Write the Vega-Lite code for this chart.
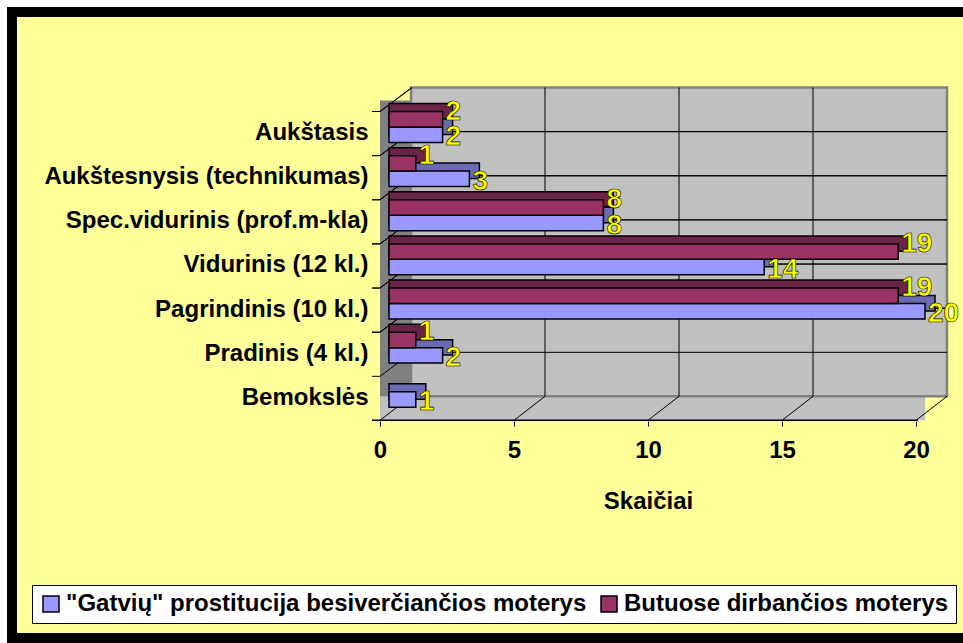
{
  "$schema": "https://vega.github.io/schema/vega-lite/v6.json",
  "width": 951,
  "height": 626,
  "autosize": {"type": "none"},
  "padding": {"left": 12, "top": 12, "right": 0, "bottom": 5},
  "background": "#FFFFFF",
  "datasets": {
    "bars": [
      {"level": "Aukštasis", "group": "\"Gatvių\" prostitucija besiverčiančios moterys", "count": 2},
      {"level": "Aukštasis", "group": "Butuose dirbančios moterys", "count": 2},
      {"level": "Aukštesnysis (technikumas)", "group": "\"Gatvių\" prostitucija besiverčiančios moterys", "count": 3},
      {"level": "Aukštesnysis (technikumas)", "group": "Butuose dirbančios moterys", "count": 1},
      {"level": "Spec.vidurinis (prof.m-kla)", "group": "\"Gatvių\" prostitucija besiverčiančios moterys", "count": 8},
      {"level": "Spec.vidurinis (prof.m-kla)", "group": "Butuose dirbančios moterys", "count": 8},
      {"level": "Vidurinis (12 kl.)", "group": "\"Gatvių\" prostitucija besiverčiančios moterys", "count": 14},
      {"level": "Vidurinis (12 kl.)", "group": "Butuose dirbančios moterys", "count": 19},
      {"level": "Pagrindinis (10 kl.)", "group": "\"Gatvių\" prostitucija besiverčiančios moterys", "count": 20},
      {"level": "Pagrindinis (10 kl.)", "group": "Butuose dirbančios moterys", "count": 19},
      {"level": "Pradinis (4 kl.)", "group": "\"Gatvių\" prostitucija besiverčiančios moterys", "count": 2},
      {"level": "Pradinis (4 kl.)", "group": "Butuose dirbančios moterys", "count": 1},
      {"level": "Bemokslės", "group": "\"Gatvių\" prostitucija besiverčiančios moterys", "count": 1}
    ],
    "ticks": [{"v": 0}, {"v": 5}, {"v": 10}, {"v": 15}, {"v": 20}]
  },
  "data": {"name": "bars"},
  "config": {
    "font": "Liberation Sans",
    "view": {"fill": "#FFFF99", "stroke": "#000000", "strokeWidth": 10, "strokeDash": [951, 626, 1620]},
    "axis": {"labelFont": "Liberation Sans", "labelFontWeight": "bold", "labelColor": "#000000", "titleFont": "Liberation Sans", "titleFontWeight": "bold", "titleColor": "#000000"},
    "legend": {"labelFont": "Liberation Sans"}
  },
  "resolve": {"scale": {"yOffset": "independent"}},
  "layer": [
    {
      "mark": {"type": "bar", "stroke": "#000000", "strokeWidth": 1.5},
      "encoding": {
        "x": {
          "field": "count", "type": "quantitative", "stack": null,
          "scale": {"domain": [-14.0672, 21.4179], "nice": false, "zero": false},
          "axis": {
            "title": "Skaičiai", "values": [0, 5, 10, 15, 20], "domain": false, "grid": false,
            "ticks": true, "tickSize": 5, "tickColor": "#000000", "tickWidth": 1, "tickOffset": -9,
            "offset": -217, "labelFontSize": 24, "labelPadding": 12, "labelFlush": false, "labelOverlap": false,
            "titleFontSize": 24, "titleX": 636, "titleY": 87, "titleBaseline": "alphabetic", "titleAlign": "center"
          }
        },
        "y": {
          "field": "level", "type": "nominal",
          "scale": {
            "domain": ["Aukštasis", "Aukštesnysis (technikumas)", "Spec.vidurinis (prof.m-kla)", "Vidurinis (12 kl.)", "Pagrindinis (10 kl.)", "Pradinis (4 kl.)", "Bemokslės"],
            "range": [91.5, 395.24], "paddingInner": 0.1187, "paddingOuter": 0
          },
          "axis": {
            "title": null, "domain": false, "ticks": false, "tickSize": 0, "grid": false,
            "offset": -368, "labelPadding": 12, "labelOffset": 10, "labelFontSize": 24, "labelLimit": 600
          }
        },
        "yOffset": {"field": "group", "type": "nominal", "scale": {"domain": ["Butuose dirbančios moterys", "\"Gatvių\" prostitucija besiverčiančios moterys"], "paddingInner": 0, "paddingOuter": 0.259, "align": 1}},
        "color": {
          "field": "group", "type": "nominal",
          "scale": {"domain": ["\"Gatvių\" prostitucija besiverčiančios moterys", "Butuose dirbančios moterys"], "range": ["#9999FF", "#993366"]},
          "legend": {
            "title": null, "orient": "none", "legendX": 20, "legendY": 573, "direction": "horizontal",
            "symbolType": "square", "symbolSize": 256, "symbolOffset": 0, "symbolStrokeColor": "#000000", "symbolStrokeWidth": 1.5,
            "labelFontSize": 24, "labelFontWeight": "bold", "labelColor": "#000000", "labelOffset": 3, "labelLimit": 1000,
            "columnPadding": 10, "padding": 7, "strokeColor": "#000000", "fillColor": "#FFFFFF"
          }
        }
      }
    },
    {
      "data": {"values": [{}]},
      "mark": {"type": "rect", "fill": "#808080", "xOffset": -9, "x2Offset": 22, "yOffset": -3, "y2Offset": 52},
      "encoding": {
        "x": {"datum": 0, "type": "quantitative"},
        "x2": {"datum": 0},
        "y": {"datum": "Aukštasis", "type": "nominal", "bandPosition": 0},
        "y2": {"datum": "Bemokslės", "bandPosition": 0}
      }
    },
    {
      "data": {"values": [{}]},
      "mark": {"type": "rect", "fill": "#C0C0C0", "xOffset": -9, "x2Offset": 0, "yOffset": 28, "y2Offset": 52},
      "encoding": {
        "x": {"datum": 0, "type": "quantitative"},
        "x2": {"datum": 20},
        "y": {"datum": "Bemokslės", "type": "nominal", "bandPosition": 0},
        "y2": {"datum": "Bemokslės", "bandPosition": 0}
      }
    },
    {
      "data": {"values": [{}]},
      "mark": {"type": "rect", "fill": "#C0C0C0", "stroke": "#808080", "strokeWidth": 2.5, "xOffset": 22, "x2Offset": 22, "yOffset": -16, "y2Offset": 28},
      "encoding": {
        "x": {"datum": 0, "type": "quantitative"},
        "x2": {"datum": 20},
        "y": {"datum": "Aukštasis", "type": "nominal", "bandPosition": 0},
        "y2": {"datum": "Bemokslės", "bandPosition": 0}
      }
    },
    {
      "data": {"name": "ticks"},
      "transform": [{"filter": "datum.v > 0 && datum.v < 20"}],
      "mark": {"type": "rule", "stroke": "#000000", "strokeWidth": 1, "xOffset": 22, "yOffset": -16, "y2Offset": 28},
      "encoding": {
        "x": {"field": "v", "type": "quantitative"},
        "y": {"datum": "Aukštasis", "type": "nominal", "bandPosition": 0},
        "y2": {"datum": "Bemokslės", "bandPosition": 0}
      }
    },
    {
      "transform": [{"filter": "datum.level != 'Aukštasis'"}],
      "mark": {"type": "rule", "stroke": "#000000", "strokeWidth": 1, "xOffset": 22, "x2Offset": 22, "yOffset": -16},
      "encoding": {
        "x": {"datum": 0, "type": "quantitative"},
        "x2": {"datum": 20},
        "y": {"field": "level", "type": "nominal", "bandPosition": 0}
      }
    },
    {
      "mark": {"type": "rule", "stroke": "#000000", "strokeWidth": 1, "xOffset": -9, "x2Offset": 23, "yOffset": 8, "y2Offset": -16},
      "encoding": {
        "x": {"datum": 0, "type": "quantitative"},
        "x2": {"datum": 0},
        "y": {"field": "level", "type": "nominal", "bandPosition": 0},
        "y2": {"field": "level", "bandPosition": 0}
      }
    },
    {
      "data": {"name": "ticks"},
      "mark": {"type": "rule", "stroke": "#000000", "strokeWidth": 1, "xOffset": -9, "x2Offset": 22, "yOffset": 52, "y2Offset": 28},
      "encoding": {
        "x": {"field": "v", "type": "quantitative"},
        "x2": {"field": "v"},
        "y": {"datum": "Bemokslės", "type": "nominal", "bandPosition": 0},
        "y2": {"datum": "Bemokslės", "bandPosition": 0}
      }
    },
    {
      "mark": {"type": "rule", "stroke": "#000000", "strokeWidth": 1, "xOffset": -17, "x2Offset": -9, "yOffset": 8},
      "encoding": {
        "x": {"datum": 0, "type": "quantitative"},
        "x2": {"datum": 0},
        "y": {"field": "level", "type": "nominal", "bandPosition": 0}
      }
    },
    {
      "data": {"values": [{}]},
      "mark": {"type": "rule", "stroke": "#000000", "strokeWidth": 1.5, "xOffset": -17, "x2Offset": -7, "yOffset": 52},
      "encoding": {
        "x": {"datum": 0, "type": "quantitative"},
        "x2": {"datum": 20},
        "y": {"datum": "Bemokslės", "type": "nominal", "bandPosition": 0}
      }
    },
    {
      "transform": [{"filter": "datum.group == 'Butuose dirbančios moterys'"}],
      "mark": {"type": "bar", "fill": "#6B2447", "stroke": "#000000", "strokeWidth": 1.5, "xOffset": 10, "x2Offset": 10},
      "encoding": {
        "x": {"field": "count", "type": "quantitative", "stack": null},
        "y": {"field": "level", "type": "nominal"},
        "yOffset": {"field": "group", "type": "nominal", "scale": {"domain": ["Butuose dirbančios moterys", "\"Gatvių\" prostitucija besiverčiančios moterys"], "paddingInner": 0, "paddingOuter": 0.259, "align": 0}}
      }
    },
    {
      "transform": [{"filter": "datum.group != 'Butuose dirbančios moterys'"}],
      "mark": {"type": "bar", "fill": "#6B6BB3", "stroke": "#000000", "strokeWidth": 1.5, "xOffset": 10, "x2Offset": 10},
      "encoding": {
        "x": {"field": "count", "type": "quantitative", "stack": null},
        "y": {"field": "level", "type": "nominal"},
        "yOffset": {"field": "group", "type": "nominal", "scale": {"domain": ["Butuose dirbančios moterys", "\"Gatvių\" prostitucija besiverčiančios moterys"], "paddingInner": 0, "paddingOuter": 0.259, "align": 0}}
      }
    },
    {
      "mark": {"type": "bar", "stroke": "#000000", "strokeWidth": 1.5},
      "encoding": {
        "x": {"field": "count", "type": "quantitative", "stack": null},
        "y": {"field": "level", "type": "nominal"},
        "yOffset": {"field": "group", "type": "nominal", "scale": {"domain": ["Butuose dirbančios moterys", "\"Gatvių\" prostitucija besiverčiančios moterys"], "paddingInner": 0, "paddingOuter": 0.259, "align": 1}},
        "color": {"field": "group", "type": "nominal"}
      }
    },
    {
      "mark": {"type": "text", "fill": "#FFFF00", "stroke": "#000000", "strokeWidth": 0.6, "fontSize": 28, "fontWeight": "bold", "align": "left", "baseline": "middle", "dx": 3, "dy": -5},
      "encoding": {
        "x": {"field": "count", "type": "quantitative", "stack": null},
        "y": {"field": "level", "type": "nominal"},
        "yOffset": {"field": "group", "type": "nominal", "scale": {"domain": ["Butuose dirbančios moterys", "\"Gatvių\" prostitucija besiverčiančios moterys"], "paddingInner": 0, "paddingOuter": 0.259, "align": 1}},
        "text": {"field": "count", "type": "quantitative"}
      }
    }
  ]
}
